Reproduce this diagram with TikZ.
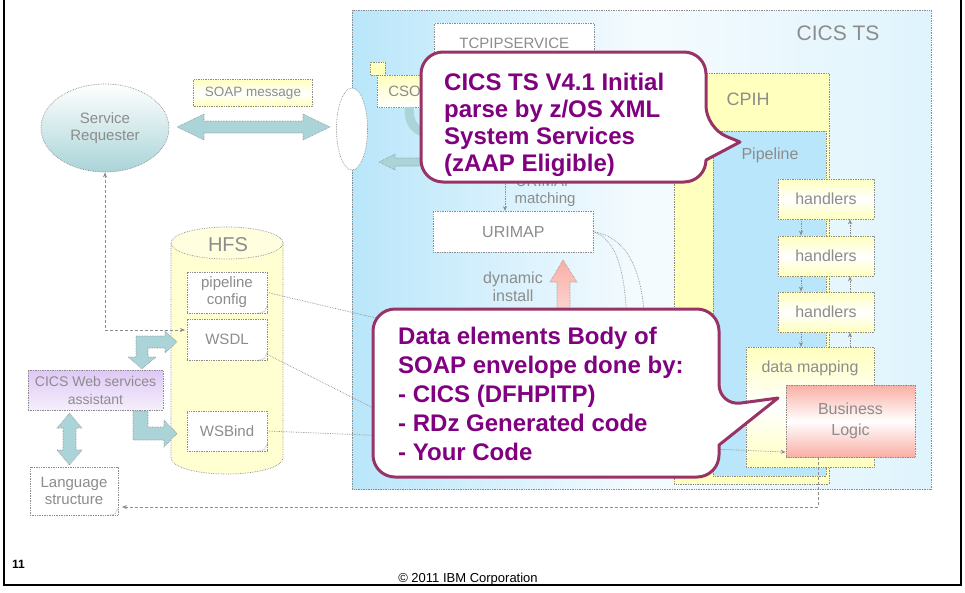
\documentclass[tikz,border=0pt]{standalone}
\usepackage{fontspec}
\setmainfont{Liberation Sans}
\usepackage{tikz}
\usetikzlibrary{calc,arrows.meta,shapes.geometric}

\definecolor{cicsblue}{RGB}{185,230,250}
\definecolor{paleyellow}{RGB}{255,255,190}
\definecolor{paleteal}{RGB}{170,212,216}
\definecolor{palelilac}{RGB}{222,200,245}
\definecolor{palered}{RGB}{250,175,165}
\definecolor{fadegray}{RGB}{140,140,140}
\definecolor{calloutrim}{RGB}{153,51,102}
\definecolor{callouttext}{RGB}{128,0,128}

\tikzset{
  faded/.style={draw=fadegray, densely dotted, line width=0.7pt},
  fadetext/.style={text=fadegray, font=\fontsize{15}{17}\selectfont, align=center},
  fadebox/.style={faded, fadetext, rectangle, inner sep=0pt},
  docbox/.style={fadebox, fill=white, minimum width=80, minimum height=41},
  handlerbox/.style={fadebox, top color=paleyellow, bottom color=paleyellow, middle color=white, minimum width=96, minimum height=40},
  blockarrow/.style={draw=fadegray, densely dotted, line width=0.6pt, fill=paleteal},
  linkline/.style={draw=fadegray, densely dotted, line width=0.7pt},
  dashlink/.style={draw=fadegray, dash pattern=on 3pt off 2pt, line width=0.7pt, ->},
  callout/.style={draw=calloutrim, line width=3pt, fill=white, line join=round},
  callouttext/.style={text=callouttext, font=\fontsize{24}{27}\bfseries\selectfont, align=left, inner sep=0pt},
}

\begin{document}
\begin{tikzpicture}[x=1pt, y=-1pt, >={Stealth[length=5pt,width=4pt]}]
	\newcommand{\hfsLeft}{171}
	\newcommand{\hfsRight}{283}
	\newcommand{\hfsTop}{243}
	\newcommand{\hfsBottom}{458}
	\newcommand{\hfsRadius}{16}
	\useasboundingbox (0,0) rectangle (965,592);

	% slide frame
	\draw[line width=2pt] (4,0) -- (4,585) -- (961,585) -- (961,0);
	\node[font=\fontsize{12}{14}\bfseries\selectfont, anchor=base west, inner sep=0pt] (page_no) at (12,568) {11};
	\node[font=\fontsize{13}{15}\selectfont, anchor=base, inner sep=0pt] (copyright) at (468,582) {© 2011 IBM Corporation};

	% CICS TS region
	\shade[left color=cicsblue, right color=cicsblue!45, middle color=cicsblue!15] (352,10) rectangle (931,489);
	\draw[faded] (352,10) rectangle (931,489);
	\node[fadetext, font=\fontsize{21}{24}\selectfont] (cics_ts) at (838,33) {CICS TS};

	% CPIH task and pipeline
	\filldraw[faded, fill=paleyellow] (674,73) rectangle (829,484);
	\filldraw[faded, fill=cicsblue] (713,131) rectangle (826,476);
	\node[fadetext, font=\fontsize{18}{20}\selectfont] (cpih) at (748,99) {CPIH};
	\node[fadetext, font=\fontsize{16}{18}\selectfont] (pipeline) at (770,155) {Pipeline};
	\foreach \i/\y in {1/199, 2/256, 3/312} {
		\node[handlerbox, font=\fontsize{16}{18}\selectfont] (handlers_\i) at (826,\y) {handlers};
	}
	\node[fadebox, top color=paleyellow, bottom color=paleyellow, middle color=white, minimum width=128, minimum height=120, anchor=north west] (data_mapping) at (746,347) {};
	\node[fadetext, font=\fontsize{16}{18}\selectfont] (data_mapping_text) at (810,368) {data mapping};
	\node[fadebox, top color=palered, bottom color=palered, middle color=white, minimum width=129, minimum height=72, font=\fontsize{16}{21}\selectfont] (business_logic) at (850.5,421) {Business\\Logic};
	\foreach \upper/\lower in {handlers_1/handlers_2, handlers_2/handlers_3, handlers_3/data_mapping} {
		\draw[linkline, ->] (\upper.south -| 801,0) -- (\lower.north -| 801,0);
		\draw[linkline, ->] (\lower.north -| 850,0) -- (\upper.south -| 850,0);
	}

	% listener side
	\node[fadebox, fill=white, minimum width=160, minimum height=40, anchor=north west] (tcpipservice) at (434,23) {TCPIPSERVICE};
	\filldraw[faded, fill=paleyellow] (370,62) rectangle (385,75);
	\node[fadebox, top color=paleyellow, bottom color=white, minimum height=32, text width=70, inner xsep=11, align=left, anchor=west] (cso) at (377,91) {CSOL};
	\node[ellipse, faded, fill=white, minimum width=31, minimum height=82, inner sep=0pt] (endpoint) at (352,129) {};
	\draw[blockarrow] (379,162) -- (395,154) -- (395,158) -- (432,158) -- (432,166) -- (395,166) -- (395,170) -- cycle;
	\draw[line width=9pt, paleteal] (409,107) .. controls (409,125) and (415,132) .. (432,134);

	% URIMAP
	\node[fadetext] (urimap_matching) at (545,191) {URIMAP\\matching};
	\node[fadebox, fill=white, minimum width=160, minimum height=41, anchor=north west, font=\fontsize{16}{18}\selectfont] (urimap) at (433,211) {URIMAP};
	\coordinate (matching_start) at (505,172);
	\draw[linkline, ->] (matching_start) -- (matching_start |- urimap.north);
	\coordinate (urimap_link_a) at (627,330);
	\coordinate (urimap_link_b) at (645,330);
	\draw[linkline] (urimap.east) .. controls (618,240) and (626,275) .. (urimap_link_a);
	\draw[linkline] (urimap.east) .. controls (632,238) and (644,280) .. (urimap_link_b);
	\node[fadetext, font=\fontsize{16}{18}\selectfont] (dynamic_install) at (513,287) {dynamic\\install};
	\draw[draw=fadegray, densely dotted, line width=0.6pt, top color=palered, bottom color=palered!40] (563,260) -- (577,282) -- (570,282) -- (570,325) -- (557,325) -- (557,282) -- (550,282) -- cycle;

	% service requester
	\node[ellipse, faded, fadetext, top color=white, bottom color=paleteal, minimum width=128, minimum height=88, inner sep=0pt] (service_requester) at (105,128) {Service\\Requester};
	\node[fadebox, top color=paleyellow, bottom color=paleyellow, middle color=white, minimum width=119, minimum height=27, font=\fontsize{13.5}{16}\selectfont] (soap_msg) at (253,93) {SOAP message};
	\draw[blockarrow] (177,127) -- (204,114) -- (204,121) -- (303,121) -- (303,114) -- (330,127) -- (303,140) -- (303,133) -- (204,133) -- (204,140) -- cycle;

	% HFS
	\fill[paleyellow!70] (\hfsLeft,\hfsTop) rectangle (\hfsRight,\hfsBottom);
	\fill[paleyellow!70] (227,\hfsBottom) ellipse [x radius=56, y radius=\hfsRadius];
	\draw[faded] (\hfsLeft,\hfsTop) -- (\hfsLeft,\hfsBottom) arc [start angle=180, end angle=0, x radius=56, y radius=\hfsRadius] -- (\hfsRight,\hfsTop);
	\filldraw[faded, fill=paleyellow!50] (227,\hfsTop) ellipse [x radius=56, y radius=\hfsRadius];
	\node[fadetext, font=\fontsize{20}{22}\selectfont] (hfs) at (228,245) {HFS};
	\node[docbox] (pipeline_config) at (227,292.5) {pipeline\\config};
	\node[docbox] (wsdl) at (227,339.5) {WSDL};
	\node[docbox, minimum height=40] (wsbind) at (227,431) {WSBind};

	% assistant and language structure
	\node[fadebox, top color=palelilac, bottom color=palelilac!30, minimum width=135, minimum height=40, font=\fontsize{14}{18}\selectfont] (assistant) at (95.5,390) {CICS Web services\\assistant};
	\node[fadebox, fill=white, minimum width=88, minimum height=48] (language) at (74,491) {Language\\structure};
	\foreach \docname in {pipeline_config, wsdl, wsbind, language} {
		\draw[linkline] ($(\docname.south east)+(-10,0)$) .. controls ($(\docname.south east)+(-3,-1)$) .. ($(\docname.south east)+(0,-8)$);
	}
	\draw[blockarrow] (177,342) -- (165,331) -- (165,336) -- (136,336) -- (136,357) -- (128,357) -- (142,369) -- (156,357) -- (148,357) -- (148,348) -- (165,348) -- (165,353) -- cycle;
	\draw[blockarrow] (133,411) -- (148,411) -- (148,427) -- (164,427) -- (164,420) -- (177,433.5) -- (164,447) -- (164,440) -- (133,440) -- cycle;
	\draw[blockarrow] (69.5,413) -- (82,428) -- (76,428) -- (76,450) -- (82,450) -- (69.5,465) -- (57,450) -- (63,450) -- (63,428) -- (57,428) -- cycle;

	% links
	\coordinate (wsdl_in) at (185,330);
	\draw[dashlink, <->] (service_requester.south) |- (wsdl_in);
	\coordinate (pconf_end) at (713,397);
	\coordinate (wsdl_end) at (480,462);
	\draw[linkline] (pipeline_config.east) -- (pconf_end);
	\draw[linkline] ($(wsdl.east)+(0,15)$) -- (wsdl_end);
	\draw[linkline, ->] (wsbind.east) -- (business_logic.west |- 0,452);
	\coordinate (lang_in) at (122,507);
	\draw[dashlink] (business_logic.south -| 818,0) |- (lang_in);

	% callouts
	\draw[callout, rounded corners=22] (421,110) -- (421,52) -- (706,52) -- (706,128) [sharp corners] -- (740,142) -- (706,160) [rounded corners=22] -- (706,182) -- (421,182) -- cycle;
	\node[callouttext, anchor=north west] (parse_note) at (444,72.5) {CICS TS V4.1 Initial\\parse by z/OS XML\\System Services\\(zAAP Eligible)};
	\draw[callout, rounded corners=22] (373,400) -- (373,309) -- (719,309) -- (719,406) [sharp corners] -- (778,398) -- (719,445) [rounded corners=22] -- (719,477) -- (373,477) -- cycle;
	\node[callouttext, anchor=north west, font=\fontsize{24}{29}\bfseries\selectfont] (mapping_note) at (398,326.5) {Data elements Body of\\SOAP envelope done by:\\- CICS (DFHPITP)\\- RDz Generated code\\- Your Code};
\end{tikzpicture}
\end{document}
